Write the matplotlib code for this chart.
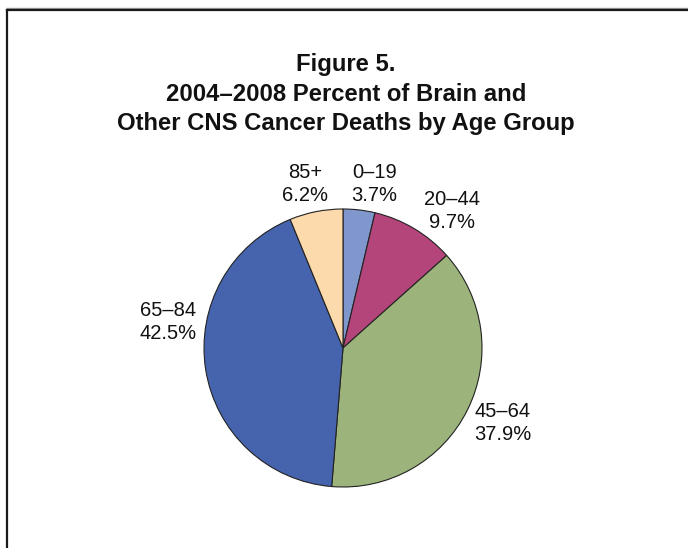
import matplotlib
matplotlib.use("Agg")
import numpy as np
import matplotlib.pyplot as plt
from matplotlib.lines import Line2D

# データ
age_groups = ["0–19", "20–44", "45–64", "65–84", "85+"]
percents = [3.7, 9.7, 37.9, 42.5, 6.2]
colors = ["#7F97CC", "#B3457B", "#9CB47C", "#4664AE", "#FDDAAB"]

title_lines = [
    "Figure 5.",
    "2004–2008 Percent of Brain and",
    "Other CNS Cancer Deaths by Age Group",
]

# ラベル位置の調整（扇形中央からの角度ずれ, 半径）
label_shift = [-4.2, -7.7, 1.3, -17.3, 1.8]
label_radius = [1.20, 1.26, 1.27, 1.27, 1.21]

W, H = 688, 548
plt.rcParams["font.family"] = ["Liberation Sans", "DejaVu Sans"]

fig = plt.figure(figsize=(W / 100, H / 100), dpi=100)
fig.patch.set_facecolor("white")

# 円グラフの位置（ピクセル）
cx, cy, r_px = 343, 348, 139
lim = 1.6
half = r_px * lim
ax = fig.add_axes([(cx - half) / W, (H - cy - half) / H, 2 * half / W, 2 * half / H])
ax.axis("off")

wedges, _ = ax.pie(
    percents,
    colors=colors,
    startangle=90,
    counterclock=False,
    radius=1.0,
    wedgeprops=dict(edgecolor="#222222", linewidth=0.8),
)
ax.set_xlim(-lim, lim)
ax.set_ylim(-lim, lim)

for w, name, pct, sh, rr in zip(wedges, age_groups, percents, label_shift, label_radius):
    mid = np.deg2rad((w.theta1 + w.theta2) / 2 + sh)
    ax.text(rr * np.cos(mid), rr * np.sin(mid), f"{name}\n{pct:.1f}%",
            ha="center", va="center", fontsize=14.5, linespacing=1.3,
            color="#111111")

# タイトル
baselines = [71.5, 101, 130]
for line, yb in zip(title_lines, baselines):
    fig.text(346 / W, 1 - yb / H, line, ha="center", va="baseline",
             fontsize=17.2, fontweight="bold", color="#111111")

# 枠線（上と左のみ）
fig.add_artist(Line2D([7 / W, 1], [1 - 8 / H, 1 - 8 / H], color="#999999", lw=1.0,
                      transform=fig.transFigure))
fig.add_artist(Line2D([7 / W, 1], [1 - 9.5 / H, 1 - 9.5 / H], color="#1a1a1a", lw=1.6,
                      transform=fig.transFigure))
fig.add_artist(Line2D([7 / W, 7 / W], [0, 1 - 9.5 / H], color="#1a1a1a", lw=1.6,
                      transform=fig.transFigure))

fig.savefig("out.png", dpi=100, facecolor="white")
